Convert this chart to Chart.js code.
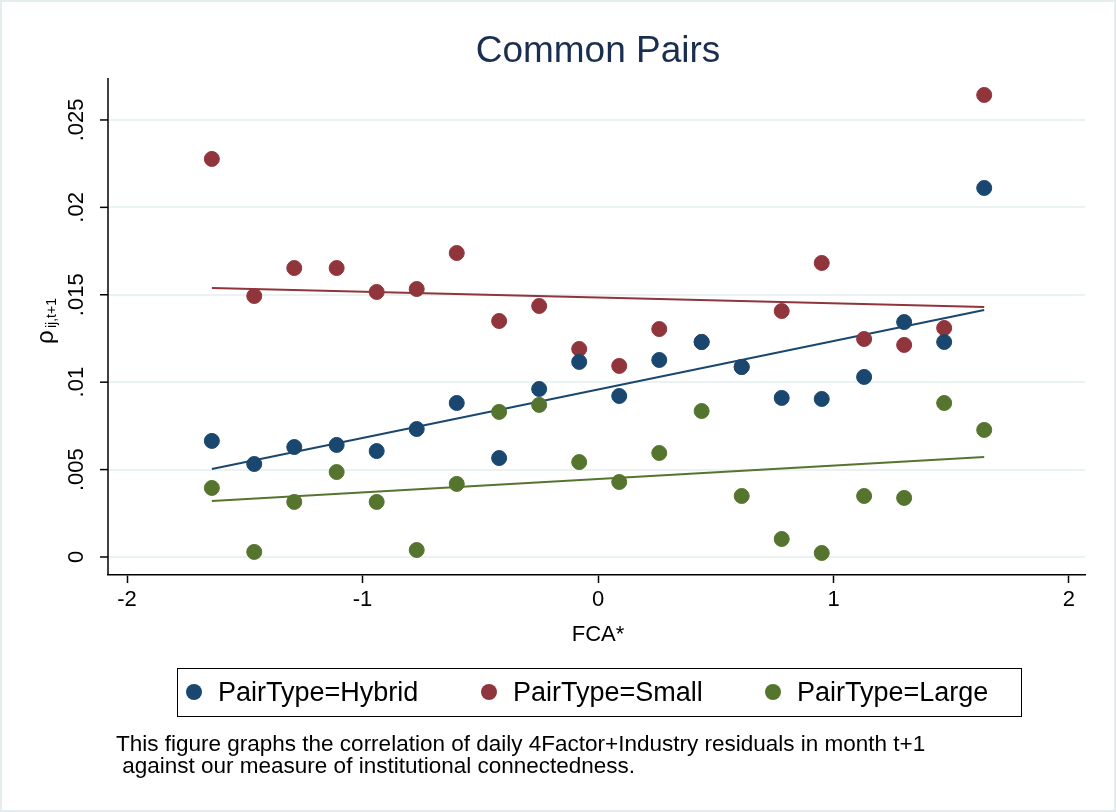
<!DOCTYPE html>
<html><head><meta charset="utf-8">
<script src="https://cdn.jsdelivr.net/npm/chart.js@4"></script>
<style>
body{margin:0;background:#fff;}
#wrap{position:relative;width:1116px;height:812px;overflow:hidden;}
#frame{position:absolute;left:0;top:0;width:1116px;height:812px;box-sizing:border-box;border:2px solid #e4ecee;pointer-events:none}
canvas{position:absolute;left:0;top:0;}
#legend{position:absolute;left:177px;top:668px;width:845px;height:49px;border:1.5px solid #000;box-sizing:border-box;font:27px Arial,"Liberation Sans";}
#legend div{position:absolute;top:8px;white-space:nowrap}
#legend span.d{display:inline-block;width:16px;height:16px;border-radius:50%;margin-right:16px;vertical-align:middle;position:relative;top:-2px}
#note{position:absolute;left:116px;top:733px;font:22.5px Arial,"Liberation Sans";line-height:22px;white-space:pre;}
</style></head><body>
<div id="wrap"><canvas id="c" width="1116" height="812"></canvas>
<div id="legend"><div style="left:8px"><span class="d" style="background:#1a476f"></span>PairType=Hybrid</div><div style="left:303px"><span class="d" style="background:#90353b"></span>PairType=Small</div><div style="left:587px"><span class="d" style="background:#55752f"></span>PairType=Large</div></div>
<div id="note">This figure graphs the correlation of daily 4Factor+Industry residuals in month t+1
 against our measure of institutional connectedness.</div><div id="frame"></div></div>
<script>
const fca=[-1.64,-1.46,-1.29,-1.11,-0.94,-0.77,-0.60,-0.42,-0.25,-0.08,0.09,0.26,0.44,0.61,0.78,0.95,1.13,1.30,1.47,1.64];
const hybrid=[.00664,.00532,.00629,.00641,.00606,.00732,.00881,.00566,.00961,.01116,.00921,.01127,.0123,.01087,.0091,.00904,.0103,.01344,.0123,.02111];
const small=[.02277,.01493,.01653,.01653,.01516,.01533,.01739,.0135,.01436,.0119,.01093,.01304,.0123,.01087,.01407,.01682,.01247,.01213,.0131,.02643];
const large=[.00395,.00029,.00315,.00486,.00315,.0004,.00418,.0083,.0087,.00543,.00429,.00595,.00835,.00349,.00103,.00023,.00349,.00338,.00881,.00727];
const fitX=[-1.64,1.64];
const fitHybrid=[.00503,.01413];
const fitSmall=[.01539,.0143];
const fitLarge=[.0032,.00572];
const yTicks=[0,.005,.01,.015,.02,.025];
const yTickLabels=["0",".005",".01",".015",".02",".025"];
const C={h:'#1a476f',s:'#90353b',l:'#55752f'};
const pts=(ys)=>fca.map((x,i)=>({x,y:ys[i]}));
const fit=(ys)=>fitX.map((x,i)=>({x,y:ys[i]}));
const sc=(d,c)=>({type:'scatter',data:pts(d),backgroundColor:c,borderColor:c,pointRadius:7.5,pointHoverRadius:7.5});
const ln=(d,c)=>({type:'line',data:fit(d),borderColor:c,borderWidth:2,pointRadius:0,fill:false});
const deco={id:'deco',afterDraw(ch){
 const g=ch.ctx,y=ch.scales.y,a=ch.chartArea;
 g.save();g.fillStyle='#000';g.font='22px Arial';g.textAlign='center';g.textBaseline='middle';
 yTicks.forEach((v,i)=>{const p=y.getPixelForValue(v);g.save();g.translate(77,p);g.rotate(-Math.PI/2);g.fillText(yTickLabels[i],0,0);g.restore();});
 g.strokeStyle='#000';g.lineWidth=1.5;
 yTicks.forEach(v=>{const p=y.getPixelForValue(v);g.beginPath();g.moveTo(a.left-8,p);g.lineTo(a.left,p);g.stroke();});
 g.beginPath();g.moveTo(a.left,a.top);g.lineTo(a.left,a.bottom);g.stroke();
 g.save();g.translate(46,330);g.rotate(-Math.PI/2);g.textAlign='left';g.font='24px Arial';g.fillText('ρ',-14,0);g.font='14px Arial';g.fillText('ij,t+1',2,6);g.restore();
 g.font='22px Arial';g.fillText('FCA*',598,635);
 g.fillStyle='#1a2f4f';g.font='37px Arial';g.fillText('Common Pairs',598,52);
 g.restore();}};
new Chart(document.getElementById('c'),{data:{datasets:[sc(hybrid,C.h),sc(small,C.s),sc(large,C.l),ln(fitHybrid,C.h),ln(fitSmall,C.s),ln(fitLarge,C.l)]},
options:{responsive:false,animation:false,layout:{padding:{top:78,right:31,bottom:167,left:0}},
plugins:{legend:{display:false},tooltip:{enabled:false}},
scales:{x:{type:'linear',min:-2.081,max:2.068,afterBuildTicks:s=>{s.ticks=[-2,-1,0,1,2].map(v=>({value:v}));},afterFit:s=>{s.height=70;},
 grid:{drawOnChartArea:false,tickLength:8,tickColor:'#000',tickWidth:1.5},border:{color:'#000',width:1.5},ticks:{color:'#000',font:{family:'Arial',size:22},padding:4,maxRotation:0}},
 y:{type:'linear',min:-0.00103,max:0.0274,afterBuildTicks:s=>{s.ticks=yTicks.map(v=>({value:v}));},afterFit:s=>{s.width=108;},
 grid:{color:'#eaf2f3',lineWidth:2,drawTicks:false},border:{display:false},ticks:{display:false}}}},plugins:[deco]});
</script></body></html>
